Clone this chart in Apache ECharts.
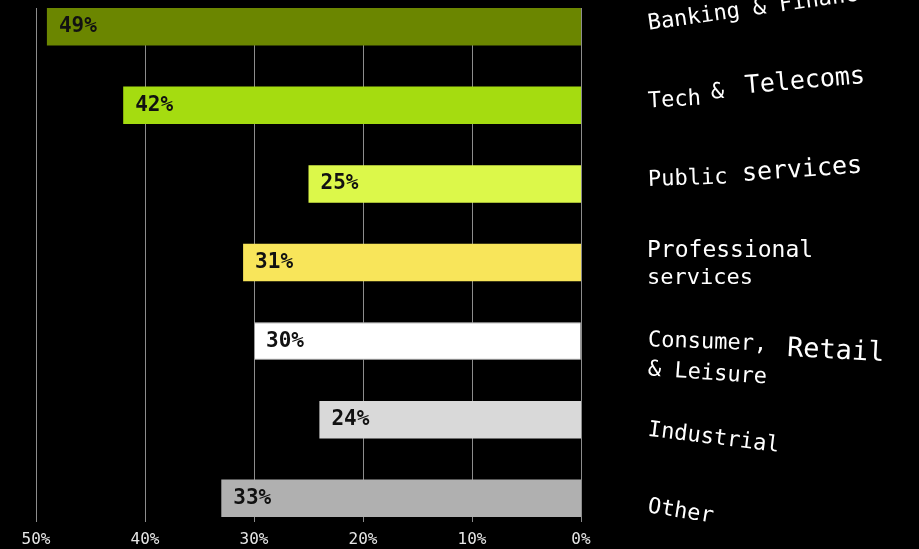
<!DOCTYPE html>
<html>
<head>
<meta charset="utf-8">
<script src="https://cdn.jsdelivr.net/npm/echarts@6/dist/echarts.min.js"></script>
<style>
  html, body { margin: 0; padding: 0; background: #000; }
  #chart { width: 919px; height: 549px; }
</style>
</head>
<body>
<div id="chart"></div>
<script>
// Share of respondents by sector
const categories = [
  'Banking & Finance',
  'Tech & Telecoms',
  'Public services',
  'Professional services',
  'Consumer, Retail & Leisure',
  'Industrial',
  'Other'
];
const shares = [49, 42, 25, 31, 30, 24, 33];
const barColors = ['#6b8600', '#a5dc10', '#dcf84a', '#f8e55a', '#ffffff', '#d9d9d9', '#b0b0b0'];
const axisMin = 0;
const axisMax = 50;
const axisStep = 10;

// Hand-set layout of the sector names: each word gets its own tilt and size.
// dx: offset from label start, dy: baseline offset from bar centre, rot: degrees (ccw), size: px
const labelWords = [
  [{ t: 'Banking & Finance', dx: 0, dy: 4, rot: 8, size: 22 }],
  [{ t: 'Tech', dx: 0, dy: 3, rot: 3, size: 22 },
   { t: '&', dx: 63, dy: -6, rot: 3, size: 22 },
   { t: 'Telecoms', dx: 97, dy: -11, rot: 5, size: 25 }],
  [{ t: 'Public', dx: 0, dy: 3, rot: 2, size: 22 },
   { t: 'services', dx: 94, dy: -2, rot: 4, size: 25 }],
  [{ t: 'Professional', dx: -1, dy: -5, rot: 0, size: 23 },
   { t: 'services', dx: -1, dy: 22, rot: 0, size: 22 }],
  [{ t: 'Consumer,', dx: 0, dy: 6, rot: -2, size: 22 },
   { t: 'Retail', dx: 139, dy: 16, rot: -3, size: 27 },
   { t: '& Leisure', dx: 0, dy: 35, rot: -4, size: 22 }],
  [{ t: 'Industrial', dx: 0, dy: 17, rot: -7, size: 22 }],
  [{ t: 'Other', dx: 0, dy: 15, rot: -9, size: 22 }]
];

const MONO = '"DejaVu Sans Mono", "Liberation Mono", monospace';

const chart = echarts.init(document.getElementById('chart'), null, { renderer: 'canvas' });

chart.setOption({
  backgroundColor: '#000',
  animation: false,
  grid: [
    // bars: first and last category sit on the grid edges
    { left: 36, right: 338, top: 26.75, height: 471.5 },
    // gridlines, ticks and tick labels
    { left: 36, right: 338, top: 8, height: 509 }
  ],
  xAxis: [
    {
      gridIndex: 0, type: 'value', min: axisMin, max: axisMax, interval: axisStep, inverse: true,
      show: false, splitLine: { show: false }
    },
    {
      gridIndex: 1, type: 'value', min: axisMin, max: axisMax, interval: axisStep, inverse: true,
      axisLine: { show: false },
      axisTick: { show: true, length: 5, lineStyle: { color: '#8c8c8c', width: 1 } },
      axisLabel: {
        color: '#e6e6e6', fontFamily: MONO, fontSize: 16, margin: 15,
        formatter: '{value}%'
      },
      splitLine: { show: true, lineStyle: { color: '#8c8c8c', width: 1 } }
    }
  ],
  yAxis: [
    {
      gridIndex: 0, type: 'category', data: categories, inverse: true, show: false,
      boundaryGap: false
    },
    {
      gridIndex: 1, type: 'value', min: 0, max: 1, show: false
    }
  ],
  series: [{
    type: 'bar',
    xAxisIndex: 0,
    yAxisIndex: 0,
    barWidth: 37.5,
    clip: false,
    data: shares.map((v, i) => ({
      value: v,
      itemStyle: {
        color: barColors[i],
        borderColor: barColors[i] === '#ffffff' ? '#9a9a9a' : barColors[i],
        borderWidth: barColors[i] === '#ffffff' ? 1 : 0
      }
    })),
    label: {
      show: true,
      position: 'insideLeft',
      distance: 12,
      formatter: '{c}%',
      color: '#111',
      fontFamily: MONO,
      fontWeight: 'bold',
      fontSize: 21
    }
  }]
});

// Sector names to the right of the bars, anchored on each category's position
const labelLeft = chart.convertToPixel({ xAxisIndex: 0 }, 0) + 67;
const graphics = [];
categories.forEach((cat, i) => {
  const cy = chart.convertToPixel({ yAxisIndex: 0 }, cat);
  labelWords[i].forEach(w => {
    graphics.push({
      type: 'text',
      x: labelLeft + w.dx,
      y: cy + w.dy - 0.3 * w.size,
      rotation: w.rot * Math.PI / 180,
      style: {
        text: w.t,
        x: 0, y: 0,
        fill: '#ffffff',
        font: w.size + 'px ' + MONO,
        align: 'left',
        verticalAlign: 'middle'
      }
    });
  });
});
chart.setOption({ graphic: graphics });
</script>
</body>
</html>
